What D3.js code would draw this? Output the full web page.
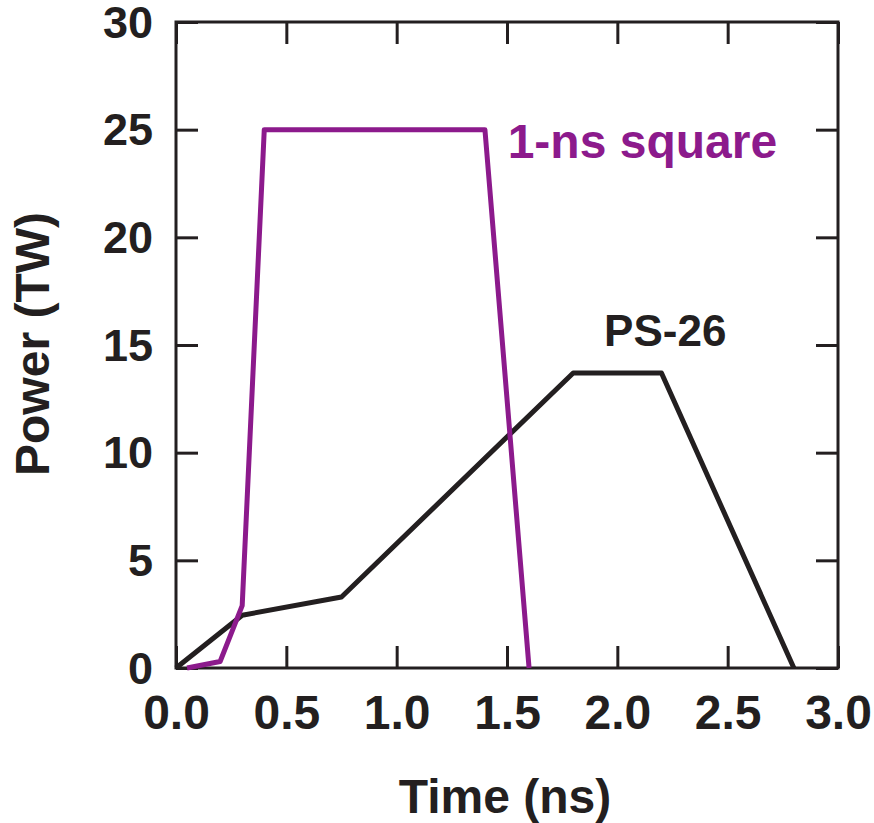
<!DOCTYPE html>
<meta charset="utf-8">
<style>
body { margin: 0; background: #fff; }
text { font-family: "Liberation Sans", Arial, sans-serif; font-weight: bold; }
</style>
<svg width="874" height="823"></svg>
<script src="https://cdnjs.cloudflare.com/ajax/libs/d3/7.8.5/d3.min.js"></script>
<script>
"use strict";

// data
var squareTime  = [0.05, 0.2, 0.3, 0.4, 1.4, 1.6];
var squarePower = [0, 0.3, 2.9, 25, 25, 0];
var ps26Time  = [0, 0.3, 0.75, 1.8, 2.2, 2.8];
var ps26Power = [0, 2.45, 3.3, 13.7, 13.7, 0];

var xTicks = [0, 0.5, 1.0, 1.5, 2.0, 2.5, 3.0];
var yTicks = [0, 5, 10, 15, 20, 25, 30];

var ink = "#231f20",
    purple = "#8c1a8c";

var svg = d3.select("svg"),
    margin = {top: 22, right: 36, bottom: 155, left: 176},
    width = +svg.attr("width") - margin.left - margin.right,
    height = +svg.attr("height") - margin.top - margin.bottom;

var g = svg.append("g").attr("transform", "translate(" + margin.left + "," + margin.top + ")");

var x = d3.scaleLinear().domain([0, 3]).range([0, width]);
var y = d3.scaleLinear().domain([0, 30]).range([height, 0]);

// inward ticks on all four sides
function styleAxis(sel) {
  sel.select(".domain").remove();
  sel.selectAll(".tick line").attr("stroke", ink).attr("stroke-width", 3);
  sel.selectAll("text").attr("fill", ink);
}

g.append("g")
  .attr("transform", "translate(0," + height + ")")
  .call(d3.axisBottom(x).tickValues(xTicks).tickFormat(d3.format(".1f")).tickSizeInner(-22).tickPadding(27))
  .call(styleAxis)
  .selectAll("text").attr("font-size", 48).attr("dy", "0.71em");

g.append("g")
  .call(d3.axisTop(x).tickValues(xTicks).tickFormat("").tickSizeInner(-22))
  .call(styleAxis);

g.append("g")
  .call(d3.axisLeft(y).tickValues(yTicks).tickSizeInner(-22).tickPadding(23))
  .call(styleAxis)
  .selectAll("text").attr("font-size", 45).attr("dy", "0.34em");

g.append("g")
  .attr("transform", "translate(" + width + ",0)")
  .call(d3.axisRight(y).tickValues(yTicks).tickFormat("").tickSizeInner(-22))
  .call(styleAxis);

g.append("rect")
  .attr("width", width).attr("height", height)
  .attr("fill", "none").attr("stroke", ink).attr("stroke-width", 3);

var line = d3.line()
  .x(function(d) { return x(d[0]); })
  .y(function(d) { return y(d[1]); });

g.append("path")
  .datum(d3.zip(ps26Time, ps26Power))
  .attr("d", line)
  .attr("fill", "none").attr("stroke", ink).attr("stroke-width", 5).attr("stroke-linejoin", "round");

g.append("path")
  .datum(d3.zip(squareTime, squarePower))
  .attr("d", line)
  .attr("fill", "none").attr("stroke", purple).attr("stroke-width", 5).attr("stroke-linejoin", "round");

// labels
g.append("text")
  .attr("x", x(1.503)).attr("y", y(23.7))
  .attr("font-size", 48).attr("fill", purple)
  .text("1-ns square");

g.append("text")
  .attr("x", x(1.94)).attr("y", y(14.95))
  .attr("font-size", 44).attr("fill", ink)
  .text("PS-26");

svg.append("text")
  .attr("x", 505).attr("y", 813)
  .attr("text-anchor", "middle").attr("font-size", 48).attr("fill", ink)
  .text("Time (ns)");

svg.append("text")
  .attr("transform", "translate(49,344) rotate(-90)")
  .attr("text-anchor", "middle").attr("font-size", 48).attr("fill", ink)
  .text("Power (TW)");
</script>
